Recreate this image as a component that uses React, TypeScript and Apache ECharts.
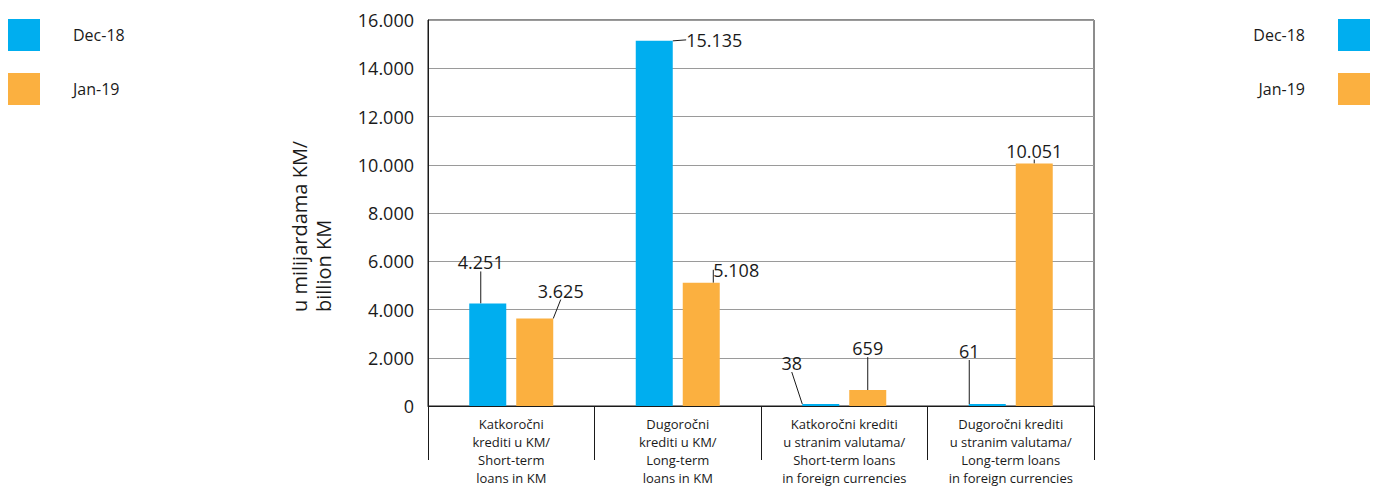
import React, { useEffect, useRef } from "react";
import * as echarts from "echarts";

const categories = [
  "Katkoročni\nkrediti u KM/\nShort-term\nloans in KM",
  "Dugoročni\nkrediti u KM/\nLong-term\nloans in KM",
  "Katkoročni krediti\nu stranim valutama/\nShort-term loans\nin foreign currencies",
  "Dugoročni krediti\nu stranim valutama/\nLong-term loans\nin foreign currencies",
];
const dec18 = [4251, 15135, 38, 61];
const jan19 = [3625, 5108, 659, 10051];
const seriesNames = ["Dec-18", "Jan-19"];
const yTicks = { min: 0, max: 16000, interval: 2000 };
const yAxisTitle = "u milijardama KM/\nbillion KM";

// label offsets (style only)
const decOffsets = [[-7, -28], [60, 12], [-29, -28], [-18, -40]];
const janOffsets = [[26, -15], [35, 0], [0, -29], [0, 0]];

const FONT = "Open Sans";
const fmt = (v: number) => String(v).replace(/\B(?=(\d{3})+(?!\d))/g, ".");

export default function App() {
  const ref = useRef<HTMLDivElement>(null);
  useEffect(() => {
    const chart = echarts.init(ref.current!, null, { renderer: "svg" });
    const labelCommon = {
      show: true,
      position: "top" as const,
      distance: 4,
      fontFamily: FONT,
      fontSize: 18,
      color: "#1a1a1a",
      formatter: (p: any) => fmt(p.value),
    };
    const labelLine = { show: true, lineStyle: { color: "#1a1a1a", width: 1 } };
    const legendCommon = {
      data: seriesNames,
      orient: "vertical" as const,
      itemWidth: 32,
      itemHeight: 32,
      itemGap: 22,
      padding: 0,
      icon: "rect",
      textStyle: { fontFamily: FONT, fontSize: 16, color: "#1a1a1a" },
      top: 19,
    };
    chart.setOption({
      animation: false,
      color: ["#00AEEF", "#FBB040"],
      legend: [
        { ...legendCommon, left: 8, align: "left", textStyle: { ...legendCommon.textStyle, padding: [0, 0, 0, 28] } },
        { ...legendCommon, right: 8, align: "right", textStyle: { ...legendCommon.textStyle, padding: [0, 28, 0, 0] } },
      ],
      graphic: [
        {
          type: "text",
          x: 287,
          y: 312,
          rotation: Math.PI / 2,
          style: {
            text: yAxisTitle,
            fontFamily: FONT,
            fontSize: 20,
            lineHeight: 24,
            fill: "#1a1a1a",
            align: "left",
            verticalAlign: "top",
          },
        },
      ],
      grid: {
        left: 428,
        right: 284,
        top: 20,
        bottom: 82,
        outerBoundsMode: "none",
        containLabel: false,
        show: true,
        borderColor: "#1a1a1a",
        borderWidth: 1,
      },
      xAxis: {
        type: "category",
        data: categories,
        axisLine: { lineStyle: { color: "#1a1a1a", width: 1 } },
        axisTick: { show: true, length: 54, interval: 0, lineStyle: { color: "#1a1a1a" } },
        axisLabel: {
          interval: 0,
          fontFamily: FONT,
          fontSize: 13,
          lineHeight: 18,
          color: "#1a1a1a",
          margin: 9,
        },
      },
      yAxis: {
        type: "value",
        min: yTicks.min,
        max: yTicks.max,
        interval: yTicks.interval,
        axisLine: { show: true, lineStyle: { color: "#1a1a1a" } },
        axisTick: { show: false },
        axisLabel: {
          fontFamily: FONT,
          fontSize: 18,
          color: "#1a1a1a",
          margin: 14,
          formatter: (v: number) => fmt(v),
        },
        splitLine: { lineStyle: { color: "#9a9a9a", width: 1 } },
      },
      series: [
        {
          name: seriesNames[0],
          type: "bar",
          data: dec18,
          barWidth: 37,
          barGap: "27%",
          barMinHeight: 2,
          label: labelCommon,
          labelLine,
          labelLayout: (p: any) => ({ dx: decOffsets[p.dataIndex][0], dy: decOffsets[p.dataIndex][1] }),
        },
        {
          name: seriesNames[1],
          type: "bar",
          data: jan19,
          barWidth: 37,
          barGap: "27%",
          barMinHeight: 2,
          label: labelCommon,
          labelLine,
          labelLayout: (p: any) => ({ dx: janOffsets[p.dataIndex][0], dy: janOffsets[p.dataIndex][1] }),
        },
      ],
    });
    return () => chart.dispose();
  }, []);
  return <div ref={ref} style={{ width: 1378, height: 488, position: "absolute", left: 0, top: 0 }} />;
}
